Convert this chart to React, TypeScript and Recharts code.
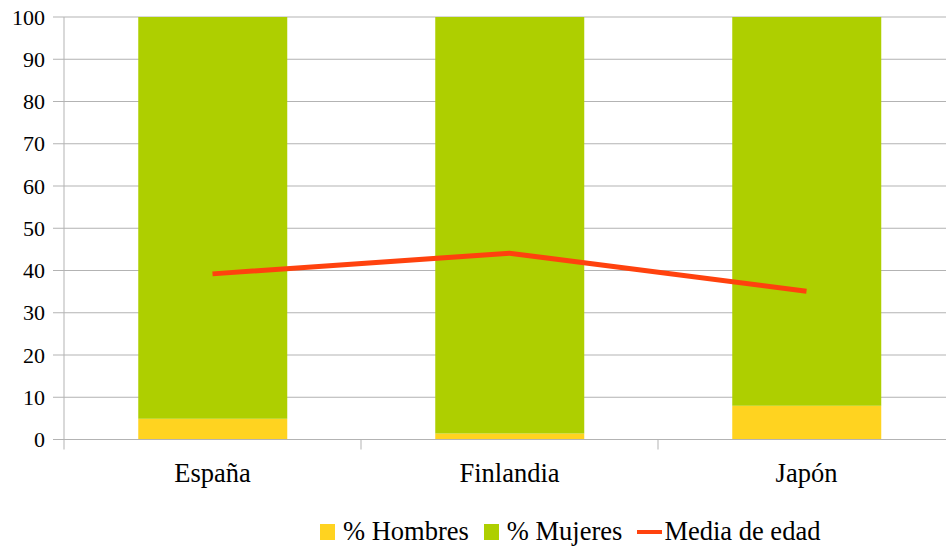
import { ComposedChart, Bar, Line, XAxis, YAxis, CartesianGrid, Legend } from 'recharts';

const countries = ['España', 'Finlandia', 'Japón'];
const hombres = [4.9, 1.4, 8.0];
const mujeres = [95.1, 98.6, 92.0];
const mediaEdad = [39.2, 44.1, 35.1];
const yTicks = [0, 10, 20, 30, 40, 50, 60, 70, 80, 90, 100];

const data = countries.map((name, i) => ({
  name,
  hombres: hombres[i],
  mujeres: mujeres[i],
  media: mediaEdad[i],
}));

const GRID = '#b3b3b3';
const FONT = "'Times New Roman', 'Liberation Serif', Tinos, serif";

// category label in the middle, tick mark on the left edge of the band
const CategoryTick = (props: any) => {
  const { x, y, payload } = props;
  const half = payload && payload.offset ? payload.offset : 148.5;
  return (
    <g>
      <line x1={x - half} y1={y} x2={x - half} y2={y + 10} stroke={GRID} strokeWidth={1} />
      <text x={x} y={y + 42} textAnchor="middle" fill="#000" style={{ fontSize: 26.5, fontFamily: FONT }}>
        {payload.value}
      </text>
    </g>
  );
};

const renderValueTick = (props: any) => {
  const { x, y, payload } = props;
  return (
    <text key={payload.value} x={x} y={y + 7.5} textAnchor="end" fill="#000" style={{ fontSize: 22, fontFamily: FONT }}>
      {String(payload.value)}
    </text>
  );
};

const legendItems = [
  { label: '% Hombres', color: '#ffd320', kind: 'box' },
  { label: '% Mujeres', color: '#aecf00', kind: 'box' },
  { label: 'Media de edad', color: '#ff420e', kind: 'line' },
];

const LegendContent = () => (
  <div style={{ display: 'flex', alignItems: 'center', paddingLeft: 320, fontFamily: FONT, fontSize: 26.5, color: '#000' }}>
    {legendItems.map((it) => (
      <div key={it.label} style={{ display: 'flex', alignItems: 'center', marginRight: 15 }}>
        {it.kind === 'box' ? (
          <span style={{ display: 'inline-block', width: 15, height: 16, background: it.color, marginRight: 8 }} />
        ) : (
          <span style={{ display: 'inline-block', width: 25, height: 4, background: it.color, marginRight: 2 }} />
        )}
        <span>{it.label}</span>
      </div>
    ))}
  </div>
);

export default function App() {
  return (
    <div style={{ position: 'absolute', left: 0, top: 0, width: 946, height: 548, overflow: 'hidden', background: '#fff', fontFamily: FONT }}>
      <ComposedChart
        width={960}
        height={548}
        data={data}
        margin={{ top: 17, right: 5, left: 0, bottom: 48.5 }}
        barCategoryGap="25%"
      >
        <CartesianGrid vertical={false} stroke={GRID} />
        <XAxis
          dataKey="name"
          height={60}
          axisLine={{ stroke: GRID }}
          tickLine={false}
          tickSize={0}
          tickMargin={0}
          tick={<CategoryTick />}
          interval={0}
        />
        <YAxis
          width={64}
          domain={[0, 100]}
          ticks={yTicks}
          interval={0}
          axisLine={{ stroke: GRID }}
          tickLine={{ stroke: GRID }}
          tickSize={11}
          tickMargin={8}
          tick={renderValueTick}
        />
        <Bar dataKey="hombres" stackId="a" fill="#ffd320" isAnimationActive={false} />
        <Bar dataKey="mujeres" stackId="a" fill="#aecf00" isAnimationActive={false} />
        <Line
          dataKey="media"
          type="linear"
          stroke="#ff420e"
          strokeWidth={5}
          dot={false}
          activeDot={false}
          isAnimationActive={false}
        />
        <Legend
          verticalAlign="middle"
          align="center"
          layout="horizontal"
          wrapperStyle={{ top: 516, left: 0, width: 946 }}
          content={<LegendContent />}
        />
      </ComposedChart>
    </div>
  );
}
